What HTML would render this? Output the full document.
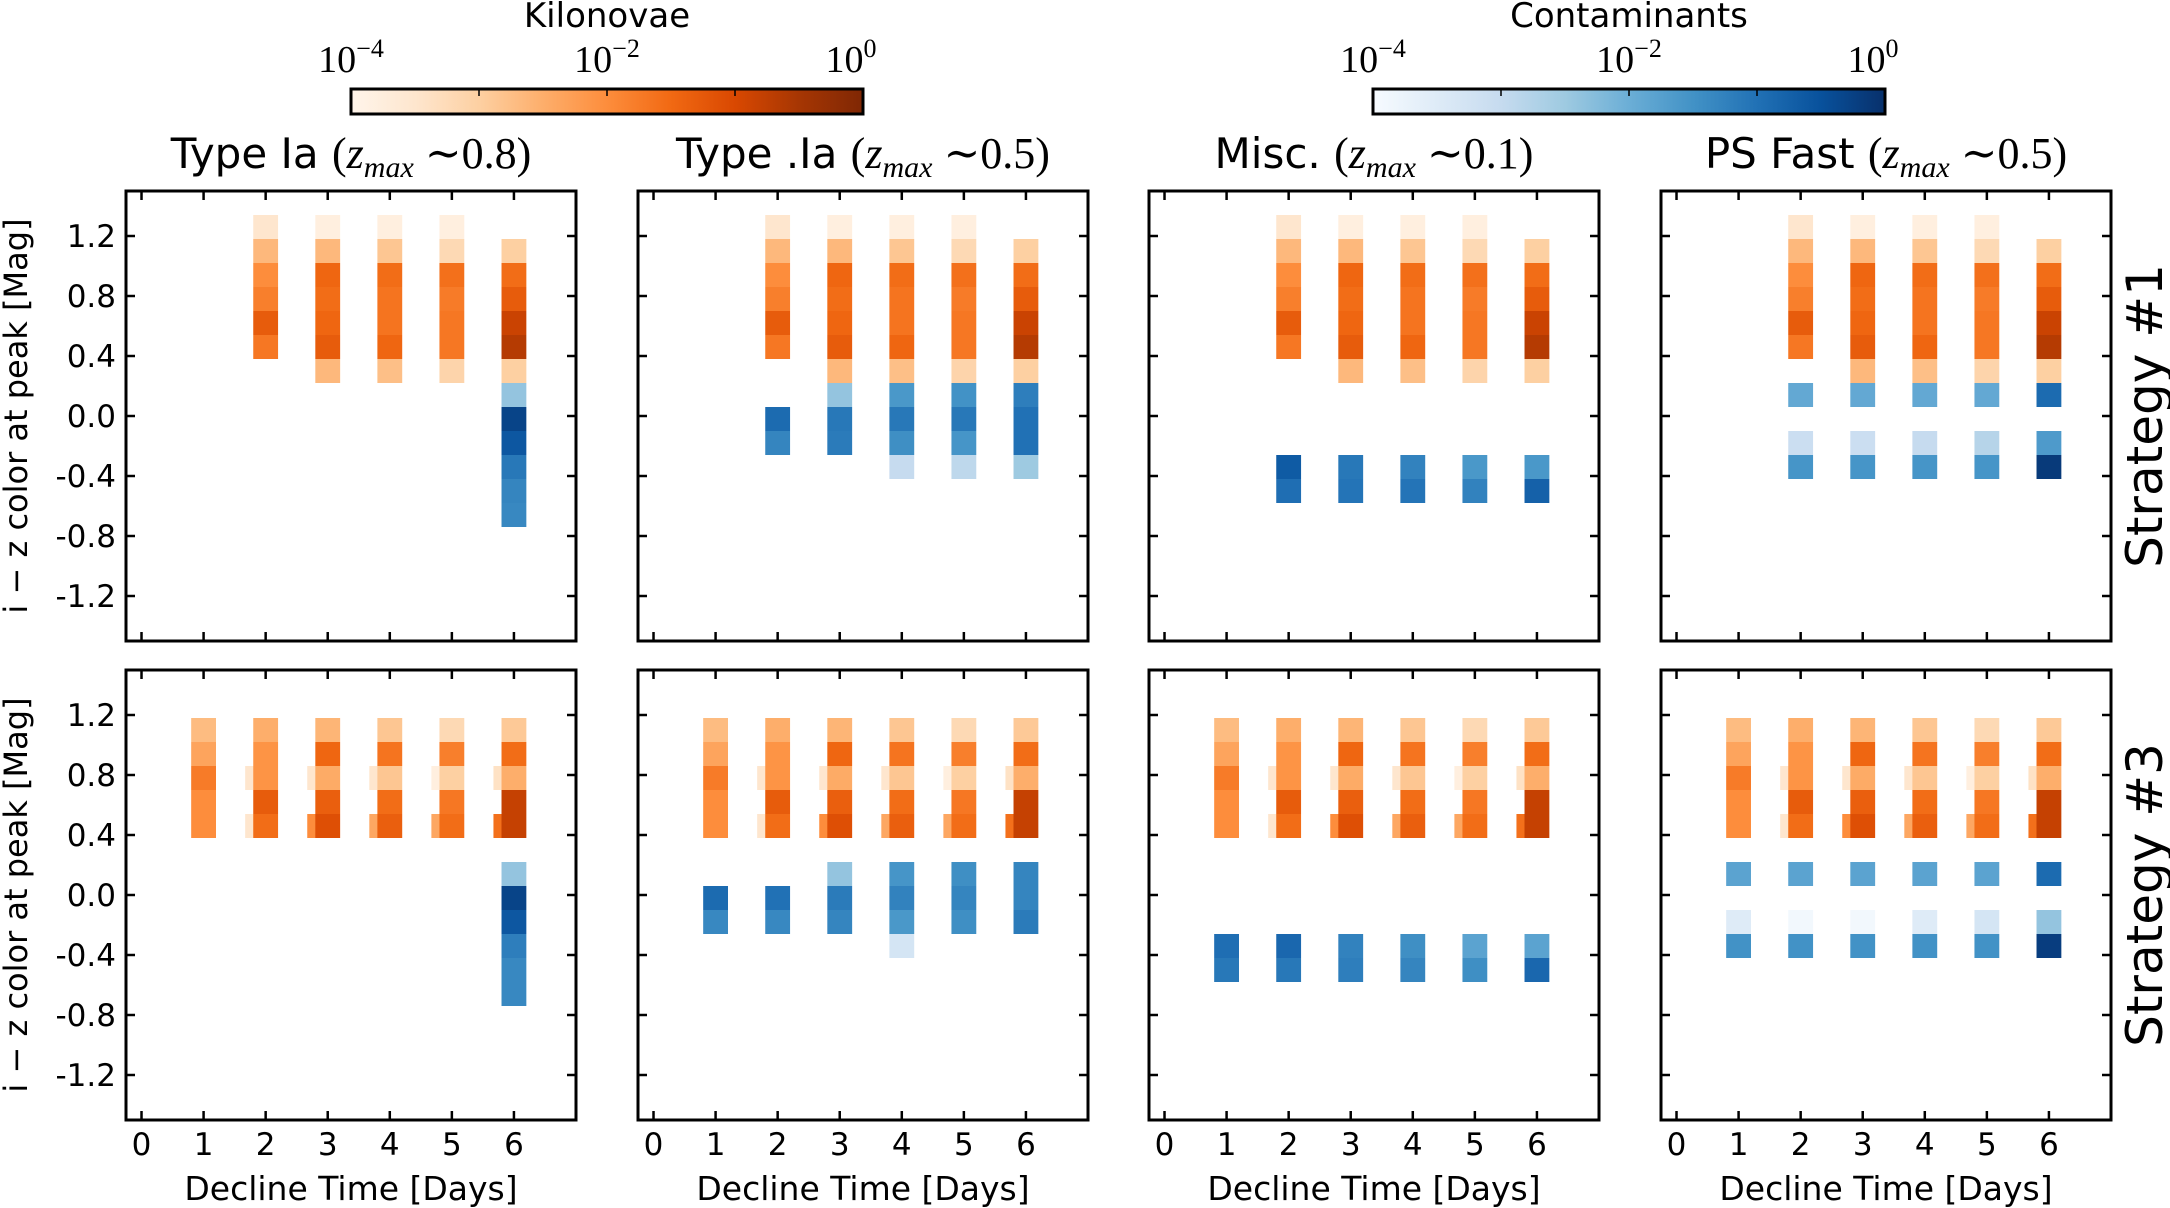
<!DOCTYPE html>
<html><head><meta charset="utf-8"><style>
html,body{margin:0;padding:0;background:#fff;}
svg{display:block;font-family:"DejaVu Sans","Liberation Sans",sans-serif;}
.m{font-family:"Liberation Serif","DejaVu Serif",serif;}
</style></head><body>
<svg id="fig" width="2170" height="1208" viewBox="0 0 2170 1208" xmlns="http://www.w3.org/2000/svg"></svg>
<script>
// ---- data (log10 fraction; bins k: edge top = 1.34 - 0.16k) ----
const days = [0,1,2,3,4,5,6];
const yTicks = [1.2,0.8,0.4,0.0,-0.4,-0.8,-1.2];
const yTickLabels = ["1.2","0.8","0.4","0.0","-0.4","-0.8","-1.2"];
const panelTitles = ["Type Ia","Type .Ia","Misc.","PS Fast"];
const panelZ = ["0.8","0.5","0.1","0.5"];
const rowLabels = ["Strategy #1","Strategy #3"];
const orangeTop = [
 [2,0,-3.5],[2,1,-2.65],[2,2,-2.0],[2,3,-1.8],[2,4,-1.3],[2,5,-1.7],
 [3,0,-3.8],[3,1,-2.65],[3,2,-1.45],[3,3,-1.55],[3,4,-1.45],[3,5,-1.3],[3,6,-2.65],
 [4,0,-3.8],[4,1,-2.85],[4,2,-1.55],[4,3,-1.65],[4,4,-1.65],[4,5,-1.45],[4,6,-2.75],
 [5,0,-3.8],[5,1,-3.2],[5,2,-1.6],[5,3,-1.75],[5,4,-1.7],[5,5,-1.7],[5,6,-3.1],
 [6,1,-3.0],[6,2,-1.55],[6,3,-1.3],[6,4,-0.85],[6,5,-0.65],[6,6,-3.0]
];
const orangeBottom = [
 [1,1,-2.7],[1,2,-2.35],[1,3,-1.75],[1,4,-2.0],[1,5,-2.0],
 [2,1,-2.5],[2,2,-2.1],[2,3,-2.1],[2,4,-1.3],[2,5,-1.55],
 [3,1,-2.6],[3,2,-1.45],[3,3,-2.45],[3,4,-1.35],[3,5,-1.1],
 [4,1,-2.85],[4,2,-1.65],[4,3,-2.85],[4,4,-1.55],[4,5,-1.35],
 [5,1,-3.2],[5,2,-1.8],[5,3,-3.0],[5,4,-1.7],[5,5,-1.55],
 [6,1,-2.9],[6,2,-1.55],[6,3,-2.5],[6,4,-0.8],[6,5,-0.8]
];
const orangeGhost = [
 [2,3,-3.5],[2,5,-3.5],[3,3,-3.5],[3,5,-2.0],[4,3,-3.5],[4,5,-2.4],
 [5,3,-3.8],[5,5,-2.4],[6,3,-3.4],[6,5,-1.6]
];
const blueTop = [
 [[6,7,-2.4],[6,8,-0.3],[6,9,-0.6],[6,10,-1.1],[6,11,-1.3],[6,12,-1.35]],
 [[2,8,-0.9],[2,9,-1.3],[3,7,-2.4],[3,8,-1.1],[3,9,-1.15],[4,7,-1.6],[4,8,-1.1],[4,9,-1.45],[4,10,-3.0],
  [5,7,-1.5],[5,8,-1.1],[5,9,-1.55],[5,10,-2.9],[6,7,-1.2],[6,8,-1.0],[6,9,-1.0],[6,10,-2.5]],
 [[2,10,-0.65],[2,11,-0.95],[3,10,-1.1],[3,11,-1.05],[4,10,-1.25],[4,11,-1.05],[5,10,-1.6],[5,11,-1.25],[6,10,-1.6],[6,11,-0.75]],
 [[2,7,-1.9],[3,7,-1.9],[4,7,-1.9],[5,7,-1.9],[6,7,-0.9],[2,9,-3.1],[3,9,-3.1],[4,9,-3.0],[5,9,-2.8],[6,9,-1.65],
  [2,10,-1.55],[3,10,-1.55],[4,10,-1.55],[5,10,-1.55],[6,10,-0.15]]
];
const blueBottom = [
 [[6,7,-2.4],[6,8,-0.3],[6,9,-0.6],[6,10,-1.2],[6,11,-1.35],[6,12,-1.35]],
 [[1,8,-0.9],[1,9,-1.35],[2,8,-1.0],[2,9,-1.35],[3,7,-2.4],[3,8,-1.15],[3,9,-1.3],[4,7,-1.55],[4,8,-1.25],[4,9,-1.6],[4,10,-3.3],
  [5,7,-1.45],[5,8,-1.3],[5,9,-1.45],[6,7,-1.3],[6,8,-1.3],[6,9,-1.15]],
 [[1,10,-0.95],[1,11,-1.1],[2,10,-0.85],[2,11,-1.1],[3,10,-1.25],[3,11,-1.2],[4,10,-1.45],[4,11,-1.3],[5,10,-1.8],[5,11,-1.45],[6,10,-1.8],[6,11,-0.85]],
 [[1,7,-1.8],[2,7,-1.8],[3,7,-1.8],[4,7,-1.8],[5,7,-1.8],[6,7,-0.9],[1,9,-3.5],[2,9,-3.9],[3,9,-3.9],[4,9,-3.5],[5,9,-3.3],[6,9,-2.4],
  [1,10,-1.5],[2,10,-1.5],[3,10,-1.5],[4,10,-1.5],[5,10,-1.5],[6,10,-0.2]]
];
const OR = ["#fff5eb","#fee6ce","#fdd0a2","#fdae6b","#fd8d3c","#f16913","#d94801","#a63603","#7f2704"];
const BL = ["#f7fbff","#deebf7","#c6dbef","#9ecae1","#6baed6","#4292c6","#2171b5","#08519c","#08306b"];
function cmap(stops, v){
  let t = Math.max(0, Math.min(1, (v+4)/4)) * (stops.length-1);
  let i = Math.min(stops.length-2, Math.floor(t)), f = t - i;
  const a = stops[i], b = stops[i+1];
  const c = [1,3,5].map(j => Math.round(parseInt(a.substr(j,2),16)*(1-f) + parseInt(b.substr(j,2),16)*f));
  return "rgb("+c.join(",")+")";
}
const NS = "http://www.w3.org/2000/svg";
const svg = document.getElementById("fig");
function el(tag, attrs, parent, txt){
  const e = document.createElementNS(NS, tag);
  for (const k in attrs) e.setAttribute(k, attrs[k]);
  if (txt !== undefined) e.textContent = txt;
  (parent||svg).appendChild(e); return e;
}
const panelX = [126, 638, 1149, 1661], PW = 450, PH = 450;
const rowY = [191, 670];
const XMIN = -0.25, XMAX = 7.0, YMIN = -1.5, YMAX = 1.5;
const CW = 0.4, BH = 0.16;

for (let r = 0; r < 2; r++) for (let p = 0; p < 4; p++) {
  const x0 = panelX[p], y0 = rowY[r];
  const sx = d => x0 + (d - XMIN) / (XMAX - XMIN) * PW;
  const sy = m => y0 + (YMAX - m) / (YMAX - YMIN) * PH;
  const g = el("g", {});
  
  
  function cell(d, k, v, stops, off){
    const top = 1.34 - BH*k;
    const rc = el("rect", {x: sx(d - CW/2 + off), y: sy(top), width: sx(d+CW/2) - sx(d-CW/2), height: sy(top-BH) - sy(top), fill: cmap(stops, v)}, g);
    
    
  }
  if (r === 1) orangeGhost.forEach(c => cell(c[0], c[1], c[2], OR, -0.13));
  (r === 0 ? orangeTop : orangeBottom).forEach(c => cell(c[0], c[1], c[2], OR, 0));
  (r === 0 ? blueTop : blueBottom)[p].forEach(c => cell(c[0], c[1], c[2], BL, 0));
  const fr = el("rect", {x: x0, y: y0, width: PW, height: PH, fill: "none", stroke: "#000", "stroke-width": 3}, g);
  
  
  days.forEach(d => {
    el("line", {x1: sx(d), x2: sx(d), y1: y0, y2: y0+9, stroke: "#000", "stroke-width": 2.5}, g);
    el("line", {x1: sx(d), x2: sx(d), y1: y0+PH, y2: y0+PH-9, stroke: "#000", "stroke-width": 2.5}, g);
    if (r === 1) {
      const t = el("text", {x: sx(d), y: 1155, "font-size": 31, "text-anchor": "middle"}, g, String(d));
      
      
    }
  });
  yTicks.forEach((m, i) => {
    el("line", {x1: x0, x2: x0+9, y1: sy(m), y2: sy(m), stroke: "#000", "stroke-width": 2.5}, g);
    el("line", {x1: x0+PW, x2: x0+PW-9, y1: sy(m), y2: sy(m), stroke: "#000", "stroke-width": 2.5}, g);
    if (p === 0) {
      const t = el("text", {x: x0-10, y: sy(m)+11, "font-size": 31, "text-anchor": "end"}, g, yTickLabels[i]);
      
      
    }
  });
  if (r === 1) {
    const xl = el("text", {x: x0+PW/2, y: 1200, "font-size": 33, "text-anchor": "middle"}, g, "Decline Time [Days]");
    
    
  }
  if (r === 0) {
    const tt = el("text", {x: x0+PW/2, y: 168, "font-size": 42, "text-anchor": "middle"}, g);
    
    
    el("tspan", {}, tt, panelTitles[p] + " ");
    el("tspan", {class: "m", "font-size": 44}, tt, "(");
    el("tspan", {class: "m", "font-style": "italic", "font-size": 44}, tt, "z");
    el("tspan", {class: "m", "font-style": "italic", "font-size": 30, dy: 9}, tt, "max");
    el("tspan", {class: "m", "font-size": 44, dy: -9}, tt, " ∼" + panelZ[p] + ")");
  }
  if (p === 0) {
    const yl = el("text", {x: 0, y: 0, "font-size": 32, "text-anchor": "middle", transform: "translate(27," + (y0+PH/2) + ") rotate(-90)"}, g, "i − z color at peak [Mag]");
    
    
  }
  if (p === 3) {
    const rl = el("text", {x: 0, y: 0, "font-size": 50, "text-anchor": "middle", transform: "translate(2162," + (y0+PH/2) + ") rotate(-90)"}, g, rowLabels[r]);
    
    
  }
}
const cbTicks = ["−4","−2","0"];
[[351, OR, "Kilonovae", "kilonovae"], [1373, BL, "Contaminants", "contaminants"]].forEach(([cx, stops, title, nm]) => {
  const g = el("g", {});
  
  
  const gid = "grad-" + nm;
  const defs = el("defs", {}, g);
  const lg = el("linearGradient", {id: gid, x1: 0, x2: 1, y1: 0, y2: 0}, defs);
  stops.forEach((c, i) => el("stop", {offset: i/(stops.length-1), "stop-color": c}, lg));
  const W = 512;
  el("rect", {x: cx, y: 89, width: W, height: 25, fill: "url(#" + gid + ")", stroke: "#000", "stroke-width": 3}, g);
  [0.25, 0.5, 0.75, 1].forEach(f => el("line", {x1: cx+W*f, x2: cx+W*f, y1: 89, y2: 96, stroke: "#000", "stroke-width": 1.5}, g));
  const tt = el("text", {x: cx+W/2, y: 27, "font-size": 34, "text-anchor": "middle"}, g, title);
  
  
  cbTicks.forEach((e, i) => {
    const t = el("text", {x: cx + W*i/2 + (i===2?-12:0), y: 72, "font-size": 38, "text-anchor": "middle", class: "m"}, g);
    
    
    el("tspan", {}, t, "10");
    el("tspan", {"font-size": 26, dy: -15}, t, e);
  });
});
</script>
</body></html>
